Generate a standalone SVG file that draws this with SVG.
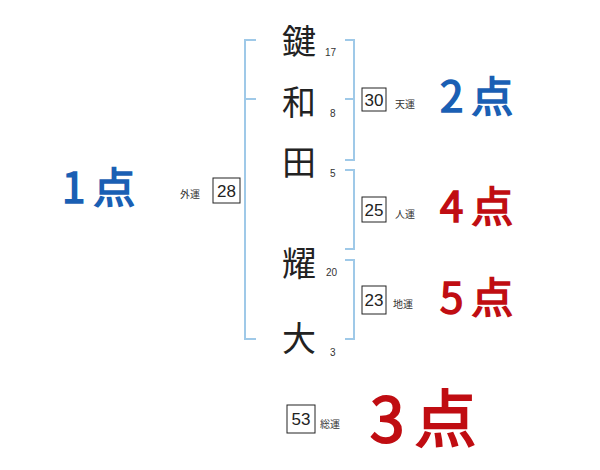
<svg xmlns="http://www.w3.org/2000/svg" width="600" height="470" viewBox="0 0 600 470">
<style>
.br{fill:none;stroke:#9fc9e8;stroke-width:2}
.ch{font-family:"Noto Sans CJK JP","Noto Sans",sans-serif;font-size:34px;fill:#222;text-anchor:middle}
.n{font-family:"Liberation Sans Narrow","Liberation Sans",sans-serif;font-size:10px;fill:#333}
.box{fill:#fff;stroke:#222;stroke-width:1}
.bn{font-family:"Liberation Sans Narrow","Liberation Sans",sans-serif;font-size:17px;fill:#222;text-anchor:middle}
.lb{font-family:"Noto Sans CJK JP",sans-serif;font-size:10px;fill:#333}
.sb,.sr{font-family:"Noto Sans CJK JP",sans-serif;font-size:42px;font-weight:normal;stroke-width:1.6;letter-spacing:8px}
.sb{fill:#1a5fb4;stroke:#1a5fb4}
.sr{fill:#c00d12;stroke:#c00d12}
</style>
<rect width="600" height="470" fill="#fff"/>
<g id="connectors">
<path class="br" d="M256,40 H245 V339 H256 M245,99 H256"/>
<path class="br" d="M345,40 H354 V160 H345 M345,99 H354"/>
<path class="br" d="M345,170 H354 V249 H345"/>
<path class="br" d="M345,260 H354 V339 H345"/>
</g>
<g id="char1"><text class="ch" x="299" y="54">鍵</text><text class="n" x="325" y="56">17</text></g>
<g id="char2"><text class="ch" x="299" y="115">和</text><text class="n" x="330" y="117">8</text></g>
<g id="char3"><text class="ch" x="299" y="175">田</text><text class="n" x="330" y="177">5</text></g>
<g id="char4"><text class="ch" x="299" y="276">耀</text><text class="n" x="326" y="276">20</text></g>
<g id="char5"><text class="ch" x="299" y="351">大</text><text class="n" x="330" y="356">3</text></g>
<g id="gaiun"><text class="lb" x="180" y="198">外運</text><rect class="box" x="213" y="178" width="27" height="25"/><text class="bn" x="226.5" y="197">28</text></g>
<g id="tenun"><rect class="box" x="362" y="88" width="24" height="23"/><text class="bn" x="374" y="106">30</text><text class="lb" x="395" y="108">天運</text></g>
<g id="jinun"><rect class="box" x="362" y="197" width="24" height="25"/><text class="bn" x="374" y="216">25</text><text class="lb" x="395" y="218">人運</text></g>
<g id="chiun"><rect class="box" x="362" y="286" width="24" height="28"/><text class="bn" x="374" y="306">23</text><text class="lb" x="393" y="308">地運</text></g>
<g id="souun"><rect class="box" x="287" y="405" width="28" height="28"/><text class="bn" x="301" y="425">53</text><text class="lb" x="320" y="428">総運</text></g>
<g id="score-gai"><text class="sb" x="62" y="203">1点</text></g>
<g id="score-ten"><text class="sb" x="440" y="112">2点</text></g>
<g id="score-jin"><text class="sr" x="440" y="222">4点</text></g>
<g id="score-chi"><text class="sr" x="440" y="313">5点</text></g>
<g id="score-sou"><text class="sr" x="370" y="442" style="font-size:62px;letter-spacing:10px;stroke-width:2">3点</text></g>
</svg>
